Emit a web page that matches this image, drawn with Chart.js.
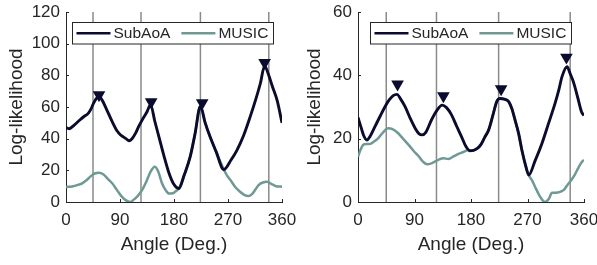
<!DOCTYPE html>
<html><head><meta charset="utf-8">
<script src="https://cdn.jsdelivr.net/npm/chart.js@4/dist/chart.umd.min.js"></script>
<style>
html,body{margin:0;padding:0;background:#fff;overflow:hidden;width:597px;height:265px}
.c{position:absolute;top:0;height:265px}
canvas{display:block}
</style></head><body>
<div class="c" style="left:0;width:298px"><canvas id="c1" width="298" height="265"></canvas></div>
<div class="c" style="left:298px;width:300px"><canvas id="c2" width="300" height="265"></canvas></div>
<script>
// ---------- data ----------
const seriesNames = ['SubAoA', 'MUSIC'];
const xTicks = [0, 90, 180, 270, 360];
const groundTruthAngles = [45, 125, 224, 338];

// left panel
const leftYTicks = [0, 20, 40, 60, 80, 100, 120];
const leftSubAoAAngles = [0,5,12,23,30,37,42,46,51,55,60,67,77,85,91,96,100,105,110,116,121,128,135,141,148,155,163,171,180,188,197,207,215,224,232,240,250,263,275,285,296,307,316,324,331,337,344,352,360];
const leftSubAoA = [47,46.3,48,51.8,54,56,59,62.5,65.5,66.5,64.5,59,50.7,45,42.3,41,40,38.7,40,43.5,47.6,52.5,57,61.5,51,41,29.5,19,11,8.5,17,28.6,43,60.5,50,41.3,32,20.5,26.5,32.8,42,53.9,64.5,75,86,81,73,64,50];
const leftMusicAngles = [0,10,20,27,35,42,48,55,62,70,77,85,93,100,107,113,120,127,134,141,148,154,160,166,172,178,183,188,197,207,215,224,232,240,250,263,268,274,282,290,297,304,310,316,321,328,335,342,350,360];
const leftMusic = [9.5,9.8,10.8,11.8,14,16.5,18,18.5,17.5,14.5,11.8,7.5,3.4,1,0,1.5,4,7.6,13,19.2,22.3,19,11.8,7.5,5.3,5.5,6.8,8.5,17,28.6,43,60.5,50,41.3,32,20.5,17,13.9,9.5,6.5,4.5,3.8,5,8,10.7,12.3,12.8,11.5,10,9.7];
const leftPeakAngles = [55, 142, 227, 331];
const leftPeakMarks = [67.6, 63.2, 62.6, 88];

// right panel
const rightYTicks = [0, 20, 40, 60];
const rightSubAoAAngles = [0,5,9,14,20,27,35,43,50,56,62,68,75,83,91,97,102,108,117,126,134,141,149,157,165,172,178,184,190,196,202,208,215,221,226,233,240,245,250,256,261,267,272,282,293,303,314,320,325,333,338,343,350,356,360];
const rightSubAoA = [26.7,23.5,21,19.6,21,23.8,27,30.1,32.3,33.6,34,32.5,30.1,26.5,23.3,21.6,21.2,22,25.9,29,30.6,29.8,27.5,24,20.6,17.5,16.2,16.3,16.9,18.2,20.5,22.7,27.5,31.7,32.7,32.5,31.7,29.5,26,21.5,16.4,11.5,8.5,13,18.5,24.5,31.2,35.5,39.6,42.7,40.5,38,33,28.5,27.3];
const rightMusicAngles = [0,4,8,13,19,25,32,40,48,55,64,73,83,90,96,103,110,118,128,136,144,152,160,168,176,178,184,190,196,202,208,215,221,226,233,240,245,250,256,261,267,272,277,284,290,298,304,309,313,318,323,328,333,338,345,351,356,360];
const rightMusic = [14.3,16.5,18,18.3,18.3,19,20.1,22,23.3,23,21.7,19.7,17.5,15.8,14.6,12.8,11.9,12.3,13.3,13.8,13.6,14.4,15.2,15.8,16.4,16.2,16.3,16.9,18.2,20.5,22.7,27.5,31.7,32.7,32.5,31.7,29.5,26,21.5,16.4,11.5,8.5,6.9,4,1.7,0,1,2.9,2.9,3,3.3,3.8,5.2,6.5,8.5,10.8,12.5,13.3];
const rightPeakAngles = [63, 136, 228, 332];
const rightPeakMarks = [37.2, 33.5, 35.7, 45.7];

// ---------- styling ----------
const NAVY = '#0b0b2d';
const TEAL = '#6f9995';
const GRAYLINE = '#8a8a8a';
const TXT = '#262626';
const FONT = "'Liberation Sans', Arial, Helvetica, sans-serif";
Chart.defaults.font.family = FONT;

const pts = (xs, ys) => xs.map((x, i) => ({x, y: ys[i]}));

const inwardTicks = {
  id: 'inwardTicks',
  afterDatasetsDraw(chart) {
    const {ctx, chartArea, scales: {x, y}} = chart;
    ctx.save();
    ctx.strokeStyle = TXT; ctx.lineWidth = 1;
    ctx.beginPath();
    x.ticks.forEach(t => { const px = Math.round(x.getPixelForValue(t.value)) + 0.5; ctx.moveTo(px, chartArea.bottom); ctx.lineTo(px, chartArea.bottom - 3); });
    y.ticks.forEach(t => { const py = Math.round(y.getPixelForValue(t.value)) + 0.5; ctx.moveTo(chartArea.left, py); ctx.lineTo(chartArea.left + 3, py); });
    ctx.stroke();
    ctx.restore();
  }
};

const boxLegend = {
  id: 'boxLegend',
  afterDraw(chart, args, opts) {
    const {ctx, chartArea} = chart;
    const w = 201, h = 21.5;
    const x0 = Math.round((chartArea.left + chartArea.right) / 2 - w / 2 + opts.shift) + 0.5;
    const y0 = chartArea.top + 10.5;
    ctx.save();
    ctx.fillStyle = '#fff';
    ctx.fillRect(x0, y0, w, h);
    ctx.strokeStyle = TXT; ctx.lineWidth = 1;
    ctx.strokeRect(x0, y0, w, h);
    ctx.font = '15.5px ' + FONT;
    ctx.textBaseline = 'middle';
    ctx.fillStyle = TXT;
    const cy = y0 + h / 2;
    let x = x0 + 4;
    const colors = [NAVY, TEAL];
    seriesNames.forEach((name, i) => {
      ctx.strokeStyle = colors[i]; ctx.lineWidth = 2.6;
      ctx.beginPath(); ctx.moveTo(x, cy); ctx.lineTo(x + 34, cy); ctx.stroke();
      x += 37;
      ctx.fillText(name, x, cy + 0.5);
      x += ctx.measureText(name).width + 11;
    });
    ctx.restore();
  }
};

function makeChart(id, cfg) {
  const datasets = [
    { label: 'peaks', data: pts(cfg.peakAngles, cfg.peakMarks), showLine: false,
      pointStyle: 'triangle', rotation: 180, pointRadius: 7.3, pointBackgroundColor: NAVY,
      pointBorderColor: NAVY, pointBorderWidth: 0, clip: false },
    { label: seriesNames[0], data: pts(cfg.aAngles, cfg.aVals), borderColor: NAVY, borderWidth: 2.9,
      pointRadius: 0, cubicInterpolationMode: 'monotone', fill: false },
    { label: seriesNames[1], data: pts(cfg.mAngles, cfg.mVals), borderColor: TEAL, borderWidth: 2.5,
      pointRadius: 0, cubicInterpolationMode: 'monotone', fill: false },
  ];
  const yMin = cfg.yTicks[0], yMax = cfg.yTicks[cfg.yTicks.length - 1];
  groundTruthAngles.forEach(a => datasets.push({
    label: 'gt', data: [{x: a, y: yMin}, {x: a, y: yMax}], borderColor: GRAYLINE, borderWidth: 1.5,
    pointRadius: 0, tension: 0
  }));
  return new Chart(document.getElementById(id), {
    type: 'line',
    data: { datasets },
    options: {
      responsive: false, animation: false, events: [],
      layout: { padding: { left: 0, right: cfg.padRight, top: 12, bottom: 0 } },
      plugins: { legend: { display: false }, tooltip: { enabled: false }, boxLegend: { shift: cfg.legendShift } },
      scales: {
        x: {
          type: 'linear', min: 0, max: 360,
          afterBuildTicks: s => { s.ticks = xTicks.map(v => ({value: v})); },
          ticks: { color: TXT, font: { size: 17 }, padding: 8, maxRotation: 0, autoSkip: false },
          grid: { display: false, drawTicks: false },
          border: { display: true, color: TXT, width: 1 },
          title: { display: true, text: 'Angle (Deg.)', color: TXT, font: { size: 19 }, padding: { top: 0, bottom: 9 } },
          afterFit: s => { s.height = 63; s.paddingLeft = 0; s.paddingRight = 0; }
        },
        y: {
          min: yMin, max: yMax,
          afterBuildTicks: s => { s.ticks = cfg.yTicks.map(v => ({value: v})); },
          ticks: { color: TXT, font: { size: 17 }, padding: 6, autoSkip: false },
          grid: { display: false, drawTicks: false },
          border: { display: true, color: TXT, width: 1 },
          title: { display: true, text: 'Log-likelihood', color: TXT, font: { size: 19 }, padding: { top: 5, bottom: 0 } },
          afterFit: s => { s.width = cfg.yWidth; s.paddingTop = 0; s.paddingBottom = 0; }
        }
      }
    },
    plugins: [inwardTicks, boxLegend]
  });
}

makeChart('c1', {
  yTicks: leftYTicks, aAngles: leftSubAoAAngles, aVals: leftSubAoA, mAngles: leftMusicAngles, mVals: leftMusic,
  peakAngles: leftPeakAngles, peakMarks: leftPeakMarks, yWidth: 66, padRight: 16, legendShift: -1.5
});
makeChart('c2', {
  yTicks: rightYTicks, aAngles: rightSubAoAAngles, aVals: rightSubAoA, mAngles: rightMusicAngles, mVals: rightMusic,
  peakAngles: rightPeakAngles, peakMarks: rightPeakMarks, yWidth: 60, padRight: 14, legendShift: -1
});
</script>
</body></html>
